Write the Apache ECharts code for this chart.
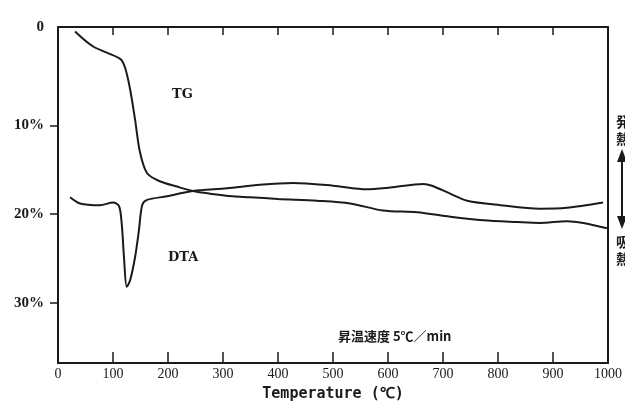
<!DOCTYPE html>
<html><head><meta charset="utf-8">
<script src="https://cdn.jsdelivr.net/npm/echarts@6/dist/echarts.min.js"></script>
<style>html,body{margin:0;padding:0;background:#fff}#c{width:625px;height:407px}</style>
</head><body><div id="c"></div>
<script>
// Temperature (°C)
const tgTemp = [31, 64, 113, 122, 131, 140, 149, 162, 185, 216, 245, 276, 318, 349, 400, 471, 531, 591, 653, 713, 773, 835, 876, 925, 955, 998];
// TG weight loss (%)
const tgLoss = [-0.6, 1.1, 2.5, 3.5, 5.9, 9.3, 13.0, 15.4, 16.3, 16.9, 17.4, 17.7, 18.0, 18.1, 18.3, 18.5, 18.8, 19.6, 19.8, 20.3, 20.7, 20.9, 21.0, 20.8, 21.0, 21.6];
// DTA (arbitrary units, plotted on a hidden axis)
const dtaTemp = [22, 40, 76, 100, 111, 116, 120, 125, 131, 140, 147, 153, 162, 198, 245, 307, 367, 428, 500, 561, 604, 664, 680, 713, 744, 804, 876, 925, 991];
const dtaVal = [18.1, 18.8, 19.0, 18.7, 19.1, 21.2, 24.9, 28.2, 27.5, 24.9, 21.9, 19.0, 18.4, 18.0, 17.4, 17.1, 16.7, 16.5, 16.8, 17.2, 17.0, 16.6, 16.8, 17.7, 18.5, 19.0, 19.4, 19.3, 18.7];
const xTicks = [0, 100, 200, 300, 400, 500, 600, 700, 800, 900, 1000];
const yTicks = [10, 20, 30];

const chart = echarts.init(document.getElementById('c'));
const serif = 'Liberation Serif';
const black = '#1a1a1a';
chart.setOption({
  animation: false,
  backgroundColor: '#fff',
  grid: {left: 58, right: 16, top: 27, bottom: 41},
  xAxis: [{
    type: 'value', min: 0, max: 1000, interval: 100,
    axisLine: {onZero: false, lineStyle: {color: black, width: 2}},
    axisTick: {inside: true, length: 11, lineStyle: {color: black, width: 1.5}},
    axisLabel: {color: black, fontFamily: serif, fontSize: 14, margin: 4, formatter: v => String(v)},
    splitLine: {show: false},
    name: 'Temperature (℃)', nameLocation: 'middle', nameGap: 24,
    nameTextStyle: {fontFamily: 'DejaVu Sans Mono', fontWeight: 'bold', fontSize: 15, color: black}
  }, {
    type: 'value', min: 0, max: 1000, interval: 100, position: 'top',
    axisLine: {onZero: false, lineStyle: {color: black, width: 2}},
    axisTick: {inside: true, length: 8, lineStyle: {color: black, width: 1.5}},
    axisLabel: {show: false}, splitLine: {show: false}
  }],
  yAxis: [{
    type: 'value', inverse: true, min: -1.1, max: 36.8,
    axisLine: {onZero: false, lineStyle: {color: black, width: 2}},
    axisTick: {show: true, length: 8, customValues: yTicks, lineStyle: {color: black, width: 1.5}},
    axisLabel: {
      customValues: [-1.1].concat(yTicks), margin: 14,
      color: black, fontFamily: serif, fontSize: 15, fontWeight: 'bold',
      formatter: v => v < 0 ? '0' : v + '%'
    },
    splitLine: {show: false}
  }, {
    type: 'value', inverse: true, min: -1.1, max: 36.8, position: 'right',
    axisLine: {show: true, onZero: false, lineStyle: {color: black, width: 2}},
    axisTick: {show: false}, axisLabel: {show: false}, splitLine: {show: false}
  }],
  series: [{
    name: 'TG', type: 'line', xAxisIndex: 0, yAxisIndex: 0, smooth: 0.3, symbol: 'none',
    lineStyle: {color: black, width: 2},
    data: tgTemp.map((t, i) => [t, tgLoss[i]])
  }, {
    name: 'DTA', type: 'line', xAxisIndex: 0, yAxisIndex: 1, smooth: 0.3, symbol: 'none',
    lineStyle: {color: black, width: 2},
    data: dtaTemp.map((t, i) => [t, dtaVal[i]])
  }],
  graphic: [
    {type: 'text', left: 172, top: 88, style: {text: 'TG', font: 'bold 13px "DejaVu Serif"', fill: black}},
    {type: 'text', left: 168, top: 251, style: {text: 'DTA', font: 'bold 13px "DejaVu Serif"', fill: black}},
    {type: 'text', left: 338, top: 330, style: {text: '昇温速度 5℃／min', font: 'bold 13px "Noto Sans CJK JP"', fill: black}},
    {type: 'text', left: 616, top: 113, style: {text: '発\n熱', font: 'bold 14px "Noto Sans CJK JP"', lineHeight: 17, fill: black}},
    {type: 'text', left: 616, top: 233, style: {text: '吸\n熱', font: 'bold 14px "Noto Sans CJK JP"', lineHeight: 17, fill: black}},
    {type: 'line', shape: {x1: 622, y1: 152, x2: 622, y2: 226}, style: {stroke: black, lineWidth: 2}},
    {type: 'polygon', shape: {points: [[617, 162], [622, 149], [627, 162]]}, style: {fill: black}},
    {type: 'polygon', shape: {points: [[617, 216], [622, 229], [627, 216]]}, style: {fill: black}}
  ]
});
</script></body></html>
